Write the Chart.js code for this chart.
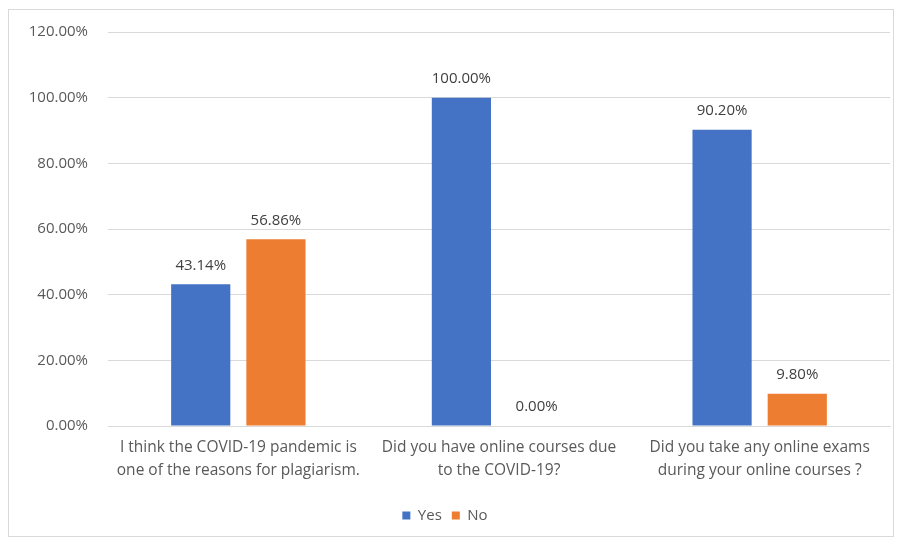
<!DOCTYPE html>
<html>
<head>
<meta charset="utf-8">
<script src="https://cdn.jsdelivr.net/npm/chart.js@4"></script>
<style>
  html, body { margin: 0; padding: 0; background: #fff; }
  #wrap { position: relative; width: 903px; height: 539px; }
  #frame { position: absolute; left: 8px; top: 9px; width: 886px; height: 528px; border: 1px solid #d9d9d9; box-sizing: border-box; pointer-events: none; }
</style>
</head>
<body>
<div id="wrap">
  <canvas id="chart" width="903" height="539"></canvas>
  <div id="frame"></div>
</div>
<script>
const categories = [
    ['I think the COVID-19 pandemic is', 'one of the reasons for plagiarism.'],
    ['Did you have online courses due', 'to the COVID-19?'],
    ['Did you take any online exams', 'during your online courses ?']
];
const yesValues = [43.14, 100.00, 90.20];
const noValues = [56.86, 0.00, 9.80];
const yTicks = [0, 20, 40, 60, 80, 100, 120];

const fontFamily = "'Open Sans', 'Liberation Sans', sans-serif";

// value labels above each bar
const barLabels = {
    id: 'barLabels',
    afterDatasetsDraw(chart) {
        const ctx = chart.ctx;
        ctx.save();
        ctx.font = '15px ' + fontFamily;
        ctx.fillStyle = '#404040';
        ctx.textAlign = 'center';
        ctx.textBaseline = 'middle';
        chart.data.datasets.forEach((ds, i) => {
            const meta = chart.getDatasetMeta(i);
            meta.data.forEach((bar, j) => {
                ctx.fillText(ds.data[j].toFixed(2) + '%', bar.x, bar.y - 19);
            });
        });
        ctx.restore();
    }
};

new Chart(document.getElementById('chart').getContext('2d'), {
    type: 'bar',
    data: {
        labels: categories,
        datasets: [
            { label: 'Yes', data: yesValues, backgroundColor: '#4472C4', categoryPercentage: 0.577, barPercentage: 0.787 },
            { label: 'No', data: noValues, backgroundColor: '#ED7D31', categoryPercentage: 0.577, barPercentage: 0.787 }
        ]
    },
    options: {
        responsive: false,
        animation: false,
        layout: { padding: { left: 0, right: 13, top: 32, bottom: 6 } },
        plugins: {
            legend: {
                position: 'bottom',
                labels: {
                    boxWidth: 8,
                    boxHeight: 8,
                    padding: 10,
                    color: '#595959',
                    font: { family: fontFamily, size: 15 }
                }
            },
            tooltip: { enabled: false }
        },
        scales: {
            x: {
                grid: { display: false },
                border: { color: '#d9d9d9' },
                ticks: {
                    color: '#595959',
                    font: { family: fontFamily, size: 15.5, lineHeight: 1.5 },
                    maxRotation: 0,
                    autoSkip: false,
                    padding: 2
                },
                afterFit(scale) { scale.height = 72; }
            },
            y: {
                min: 0,
                max: 120,
                afterBuildTicks(scale) { scale.ticks = yTicks.map(v => ({ value: v })); },
                grid: { color: '#d9d9d9', drawTicks: false },
                border: { display: false },
                ticks: {
                    color: '#595959',
                    font: { family: fontFamily, size: 15 },
                    padding: 20,
                    callback: v => v.toFixed(2) + '%'
                },
                afterFit(scale) { scale.width = 108; }
            }
        }
    },
    plugins: [barLabels]
});
</script>
</body>
</html>
